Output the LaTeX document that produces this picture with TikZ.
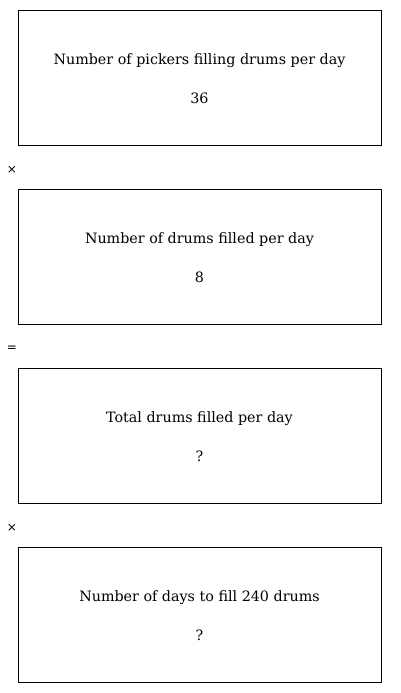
\documentclass[tikz,border=0pt]{standalone}
\usepackage{fontspec}
\setmainfont{DejaVu Serif}
\newfontfamily\opfont{DejaVu Sans}
\begin{document}
\begin{tikzpicture}[x=1pt,y=-1pt,
  box/.style={draw,line width=0.9pt,minimum width=363pt,minimum height=135pt,inner sep=0pt},
  lbl/.style={font=\fontsize{14.3}{17}\selectfont,inner sep=0pt},
  op/.style={font=\opfont\fontsize{12}{14}\selectfont,inner sep=0pt}]
\useasboundingbox (0,0) rectangle (400,693);
\node[box] (b1) at (199.5,77.5) {};
\node[box] (b2) at (199.5,256.5) {};
\node[box] (b3) at (199.5,435.5) {};
\node[box] (b4) at (199.5,614.5) {};
\node[lbl] (t1) at ([yshift=16.5pt]b1.center) {Number of pickers filling drums per day};
\node[lbl] (v1) at ([yshift=-21pt]b1.center) {36};
\node[lbl] (t2) at ([yshift=16.5pt]b2.center) {Number of drums filled per day};
\node[lbl] (v2) at ([yshift=-21pt]b2.center) {8};
\node[lbl] (t3) at ([yshift=16.5pt]b3.center) {Total drums filled per day};
\node[lbl] (v3) at ([yshift=-21pt]b3.center) {?};
\node[lbl] (t4) at ([yshift=16.5pt]b4.center) {Number of days to fill 240 drums};
\node[lbl] (v4) at ([yshift=-21pt]b4.center) {?};
\node[op] (o1) at (12,170) {×};
\node[op] (o2) at (12,349) {=};
\node[op] (o3) at (12,528) {×};
\end{tikzpicture}
\end{document}
